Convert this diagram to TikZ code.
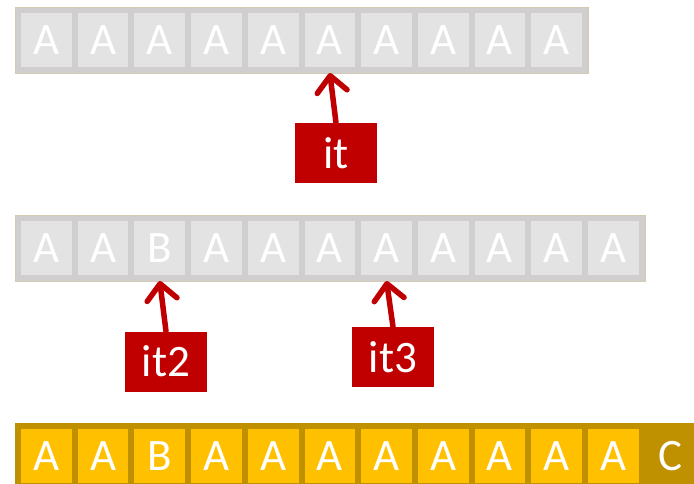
\documentclass[tikz,border=0pt]{standalone}
\usepackage{fontspec}
\setmainfont{Carlito}
\usetikzlibrary{arrows.meta}
\definecolor{cellgray}{HTML}{E3E3E3}
\definecolor{bordergray}{HTML}{D0CECE}
\definecolor{edgetan}{HTML}{D4CAB4}
\definecolor{itred}{HTML}{C00000}
\definecolor{gold}{HTML}{FFC000}
\definecolor{darkgold}{HTML}{BF9000}
\tikzset{
  cellbase/.style={minimum width=56.7pt, minimum height=60pt, inner sep=0pt,
    line width=6pt, text=white, font=\fontsize{45}{52}\selectfont},
  graycell/.style={cellbase, fill=cellgray, draw=bordergray},
  goldcell/.style={cellbase, fill=gold, draw=darkgold},
  darkcell/.style={cellbase, fill=darkgold, draw=darkgold},
  itbox/.style={fill=itred, text=white, minimum width=82pt, minimum height=60pt,
    inner sep=0pt, font=\fontsize{45}{52}\selectfont},
  pointer/.style={draw=itred, line width=5.5pt, line cap=round,
    -{Straight Barb[length=16pt, width=30pt, line cap=round, line join=round]}},
  rowedge/.style={draw=edgetan, line width=0.8pt}
}
\begin{document}
\begin{tikzpicture}[x=1pt,y=-1pt]
\clip (0,0) rectangle (694,483);
\fill[white] (0,0) rectangle (694,483);
% row 1
\foreach \i in {0,...,9} {
  \node[graycell] (ra\i) at ({18+56.7*(\i+0.5)},40) {A};
}
\draw[rowedge] (15,7) rectangle (588,73);
% row 2
\foreach \i/\t in {0/A,1/A,2/B,3/A,4/A,5/A,6/A,7/A,8/A,9/A,10/A} {
  \node[graycell] (rb\i) at ({18+56.7*(\i+0.5)},248) {\t};
}
\draw[rowedge] (15,215) rectangle (645,281);
% row 3
\foreach \i/\t in {0/A,1/A,2/B,3/A,4/A,5/A,6/A,7/A,8/A,9/A,10/A} {
  \node[goldcell] (rc\i) at ({18+56.7*(\i+0.5)},456) {\t};
}
\node[darkcell] (rc11) at ({18+56.7*11.5},456) {C};
% iterators
\node[itbox] (it) at (336,153) {it};
\node[itbox] (it2) at (166,361.5) {it2};
\node[itbox] (it3) at (393,357) {it3};
\draw[pointer] (it.north) -- (ra5.south);
\draw[pointer] (it2.north) -- (rb2.south);
\draw[pointer] (it3.north) -- (rb6.south);
\end{tikzpicture}
\end{document}
